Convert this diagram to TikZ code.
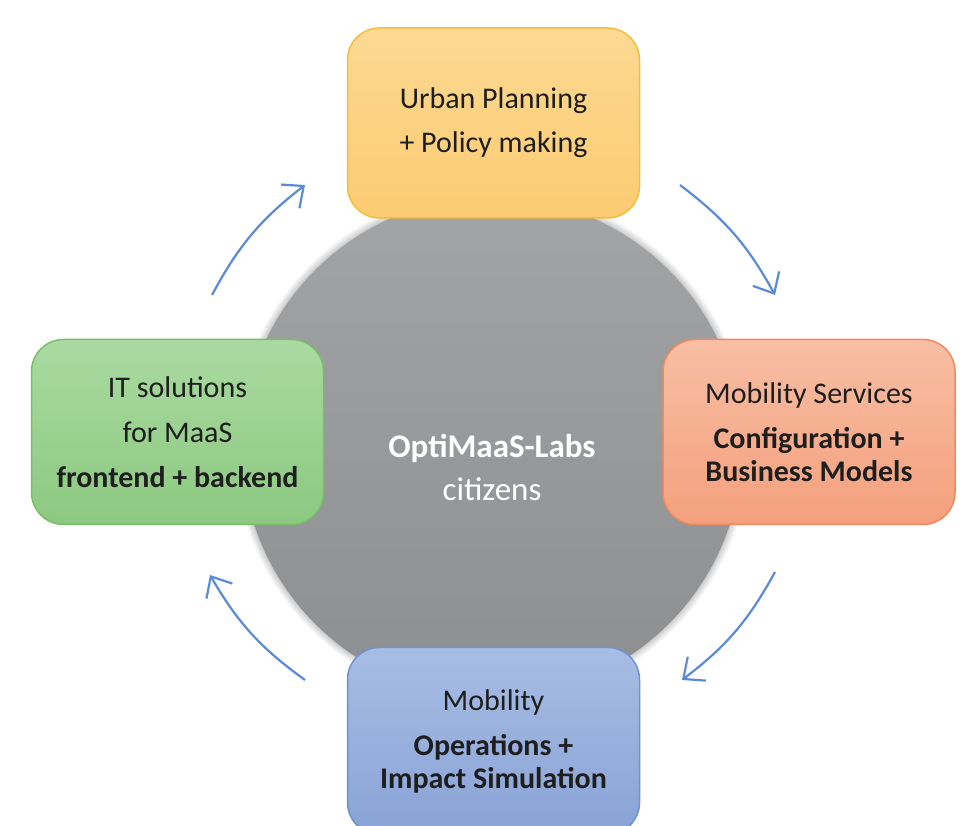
\documentclass[tikz,border=0pt]{standalone}
\usepackage{fontspec}
\setmainfont{Carlito}
\usepackage{tikz}
\usetikzlibrary{arrows.meta,shadows.blur}

\definecolor{hub}{HTML}{A2A4A5}
\definecolor{hubdark}{HTML}{8C8E8F}
\definecolor{cycle}{HTML}{5B8AD6}
\definecolor{txt}{HTML}{1E1E1E}
\definecolor{planTop}{HTML}{FDD993}
\definecolor{planBot}{HTML}{FBCB71}
\definecolor{planLine}{HTML}{F5BD3E}
\definecolor{servTop}{HTML}{F8BEA4}
\definecolor{servBot}{HTML}{F4A07D}
\definecolor{servLine}{HTML}{EE8A5D}
\definecolor{opsTop}{HTML}{A8BDE4}
\definecolor{opsBot}{HTML}{88A3D6}
\definecolor{opsLine}{HTML}{6F93D0}
\definecolor{itTop}{HTML}{AADAA1}
\definecolor{itBot}{HTML}{8CC980}
\definecolor{itLine}{HTML}{7ABE6B}

\begin{document}
\begin{tikzpicture}[x=1pt,y=1pt,
    phase/.style={rounded corners=32pt, line width=1.5pt, align=center,
      text=txt, font=\fontsize{30}{33}\selectfont,
      minimum width=292pt, minimum height=187pt, inner sep=0pt},
    flow/.style={cycle, line width=2.2pt, bend left=12,
      -{Straight Barb[length=17pt,width=30pt,line width=2.2pt]}}]
  \useasboundingbox (0,0) rectangle (967,826);

  % central hub
  \node[circle, minimum size=500pt, inner sep=0pt,
    top color=hub, bottom color=hubdark,
    blur shadow={shadow xshift=0pt, shadow yshift=0pt, shadow blur radius=8pt,
      shadow blur steps=8, shadow opacity=45}] (hub) at (492,379) {};
  \node[align=center, text=white, font=\fontsize{33}{43}\selectfont]
    (labs) at (492,358) {\textbf{OptiMaaS-Labs}\\citizens};

  % the four phases
  \node[phase, draw=planLine, top color=planTop, bottom color=planBot,
    minimum height=190pt] (plan) at (493.5,703)
    {Urban Planning\\[11pt]+ Policy making};
  \node[phase, draw=servLine, top color=servTop, bottom color=servBot,
    minimum height=185pt] (serv) at (809,394)
    {Mobility Services\\[12pt]\textbf{Configuration +}\\\textbf{Business Models}};
  \node[phase, draw=opsLine, top color=opsTop, bottom color=opsBot] (ops) at (493.5,85)
    {Mobility\\[12pt]\textbf{Operations +}\\\textbf{Impact Simulation}};
  \node[phase, draw=itLine, top color=itTop, bottom color=itBot,
    minimum height=185pt] (itsol) at (177.5,394)
    {IT solutions\\[12pt]for MaaS\\[12pt]\textbf{frontend + backend}};

  % cycle arrows
  \coordinate (a1s) at (212,531); \coordinate (a1e) at (305,641);
  \coordinate (a2s) at (680,641); \coordinate (a2e) at (775,531);
  \coordinate (a3s) at (775,254); \coordinate (a3e) at (682,146);
  \coordinate (a4s) at (305,146); \coordinate (a4e) at (210,251);
  \draw[flow] (a1s) to (a1e);
  \draw[flow] (a2s) to (a2e);
  \draw[flow] (a3s) to (a3e);
  \draw[flow] (a4s) to (a4e);
\end{tikzpicture}
\end{document}
